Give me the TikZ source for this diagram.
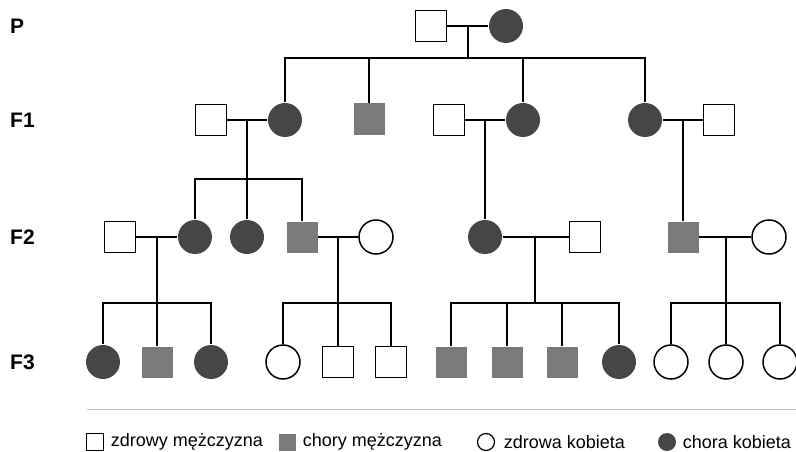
\documentclass[tikz,border=0pt]{standalone}
\usepackage{fontspec}
\setmainfont{Liberation Sans}
\definecolor{ciemny}{RGB}{70,70,70}
\definecolor{szary}{RGB}{122,122,122}
\begin{document}
\begin{tikzpicture}[x=1pt,y=-1pt,line width=1.8pt,
  zdrowyM/.style={draw, line width=1.5pt, minimum size=31pt, inner sep=0pt},
  choryM/.style={fill=szary, minimum size=31pt, inner sep=0pt},
  zdrowaK/.style={circle, draw, line width=1.5pt, minimum size=34pt, inner sep=0pt},
  choraK/.style={circle, fill=ciemny, minimum size=34pt, inner sep=0pt},
  pokolenie/.style={font=\fontsize{21}{24}\selectfont\bfseries, anchor=west},
  opis/.style={font=\fontsize{18}{20}\selectfont, anchor=west, inner sep=0pt}]
\useasboundingbox (0,0) rectangle (796,452);
% generations
\node[pokolenie] (gP) at (6,26) {P};
\node[pokolenie] (gF1) at (6,120) {F1};
\node[pokolenie] (gF2) at (6,237) {F2};
\node[pokolenie] (gF3) at (6,362) {F3};
% P
\node[zdrowyM] (pm) at (431,26) {};
\node[choraK] (pf) at (506,26) {};
% F1
\node[zdrowyM] (f1a) at (211,120) {};
\node[choraK] (f1b) at (285,120) {};
\node[choryM] (f1c) at (369,119) {};
\node[zdrowyM] (f1d) at (449,120) {};
\node[choraK] (f1e) at (523,120) {};
\node[choraK] (f1f) at (645,120) {};
\node[zdrowyM] (f1g) at (719,120) {};
% F2
\node[zdrowyM] (f2a) at (120,237) {};
\node[choraK] (f2b) at (195,237) {};
\node[choraK] (f2c) at (247,237) {};
\node[choryM] (f2d) at (302,237) {};
\node[zdrowaK] (f2e) at (376,237) {};
\node[choraK] (f2f) at (485,237) {};
\node[zdrowyM] (f2g) at (585,237) {};
\node[choryM] (f2h) at (683,237) {};
\node[zdrowaK] (f2i) at (769,237) {};
% F3
\node[choraK] (f3a) at (103,362) {};
\node[choryM] (f3b) at (157,362) {};
\node[choraK] (f3c) at (211,362) {};
\node[zdrowaK] (f3d) at (283,362) {};
\node[zdrowyM] (f3e) at (338,362) {};
\node[zdrowyM] (f3f) at (391,362) {};
\node[choryM] (f3g) at (451,362) {};
\node[choryM] (f3h) at (507,362) {};
\node[choryM] (f3i) at (562,362) {};
\node[choraK] (f3j) at (619,362) {};
\node[zdrowaK] (f3k) at (671,362) {};
\node[zdrowaK] (f3l) at (726,362) {};
\node[zdrowaK] (f3m) at (780,362) {};
% marriages
\coordinate (jP) at (468,26);
\coordinate (j1a) at (247,120);
\coordinate (j1b) at (485,120);
\coordinate (j1c) at (683,120);
\coordinate (j2a) at (157,237);
\coordinate (j2b) at (338,237);
\coordinate (j2c) at (535,237);
\coordinate (j2d) at (726,237);
\draw (pm) -- (pf);
\draw (f1a) -- (f1b);
\draw (f1d) -- (f1e);
\draw (f1f) -- (f1g);
\draw (f2a) -- (f2b);
\draw (f2d) -- (f2e);
\draw (f2f) -- (f2g);
\draw (f2h) -- (f2i);
% children
\coordinate (sP) at (468,58);
\draw (jP) -- (sP);
\draw (f1b.north) |- (sP) -| (f1f.north);
\draw (f1c.north) -- (f1c.north |- sP);
\draw (f1e.north) -- (f1e.north |- sP);
\coordinate (s1a) at (247,179);
\draw (j1a) -- (s1a);
\draw (f2b.north) |- (s1a) -| (f2d.north);
\draw (f2c.north) -- (s1a);
\draw (j1b) -- (f2f.north);
\draw (j1c) -- (f2h.north);
\coordinate (s2a) at (157,303);
\draw (j2a) -- (s2a);
\draw (f3a.north) |- (s2a) -| (f3c.north);
\draw (f3b.north) -- (s2a);
\coordinate (s2b) at (338,303);
\draw (j2b) -- (s2b);
\draw (f3d.north) |- (s2b) -| (f3f.north);
\draw (f3e.north) -- (s2b);
\coordinate (s2c) at (535,303);
\draw (j2c) -- (s2c);
\draw (f3g.north) |- (s2c) -| (f3j.north);
\draw (f3h.north) -- (f3h.north |- s2c);
\draw (f3i.north) -- (f3i.north |- s2c);
\coordinate (s2d) at (726,303);
\draw (j2d) -- (s2d);
\draw (f3k.north) |- (s2d) -| (f3m.north);
\draw (f3l.north) -- (s2d);
% legend
\draw[line width=1pt, black!25] (87,409) -- (796,409);
\node[zdrowyM, minimum size=17pt, line width=1.2pt] (lzm) at (95,442) {};
\node[opis] at (110,442) {zdrowy mężczyzna};
\node[choryM, minimum size=17pt] (lcm) at (287,442) {};
\node[opis] at (302,442) {chory mężczyzna};
\node[zdrowaK, minimum size=17pt, line width=1.2pt] (lzk) at (486,442) {};
\node[opis] at (503,442) {zdrowa kobieta};
\node[choraK, minimum size=18pt] (lck) at (667,442) {};
\node[opis] at (682,442) {chora kobieta};
\end{tikzpicture}
\end{document}
